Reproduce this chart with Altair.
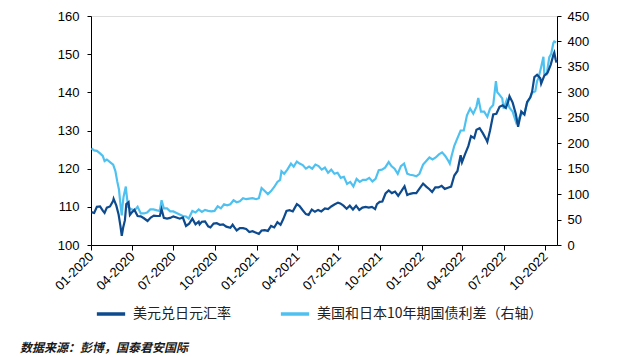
import altair as alt
import pandas as pd

FX_LABEL = "美元兑日元汇率"
SP_LABEL = "美国和日本10年期国债利差（右轴）"

fx_dates = [
    "2020-01-02","2020-01-08","2020-01-14","2020-01-21","2020-01-27","2020-01-31","2020-02-05","2020-02-12",
    "2020-02-19","2020-02-20","2020-02-26","2020-03-02","2020-03-06","2020-03-09","2020-03-12","2020-03-16",
    "2020-03-19","2020-03-24","2020-03-27","2020-03-31","2020-04-06","2020-04-13","2020-04-20","2020-04-27",
    "2020-05-05","2020-05-12","2020-05-19","2020-05-26","2020-06-01","2020-06-05","2020-06-10","2020-06-17",
    "2020-06-24","2020-07-01","2020-07-08","2020-07-15","2020-07-22","2020-07-29","2020-08-05","2020-08-12",
    "2020-08-19","2020-08-26","2020-08-28","2020-09-02","2020-09-09","2020-09-16","2020-09-21","2020-09-28",
    "2020-10-05","2020-10-12","2020-10-19","2020-10-26","2020-11-04","2020-11-09","2020-11-13","2020-11-18",
    "2020-11-25","2020-12-02","2020-12-09","2020-12-16","2020-12-23","2020-12-31","2021-01-06","2021-01-12",
    "2021-01-19","2021-01-26","2021-02-02","2021-02-09","2021-02-16","2021-02-23","2021-03-01","2021-03-08",
    "2021-03-15","2021-03-22","2021-03-31","2021-04-06","2021-04-13","2021-04-20","2021-04-26","2021-05-03",
    "2021-05-10","2021-05-17","2021-05-24","2021-06-01","2021-06-08","2021-06-15","2021-06-22","2021-06-30",
    "2021-07-05","2021-07-12","2021-07-19","2021-07-26","2021-08-02","2021-08-09","2021-08-16","2021-08-23",
    "2021-08-30","2021-09-06","2021-09-13","2021-09-20","2021-09-24","2021-09-30","2021-10-06","2021-10-13",
    "2021-10-20","2021-10-27","2021-11-03","2021-11-10","2021-11-17","2021-11-24","2021-11-30","2021-12-06",
    "2021-12-13","2021-12-20","2021-12-27","2022-01-04","2022-01-11","2022-01-18","2022-01-24","2022-01-31",
    "2022-02-07","2022-02-14","2022-02-21","2022-02-28","2022-03-07","2022-03-14","2022-03-21","2022-03-28",
    "2022-03-31","2022-04-07","2022-04-14","2022-04-20","2022-04-27","2022-05-02","2022-05-09","2022-05-16",
    "2022-05-23","2022-05-26","2022-06-01","2022-06-08","2022-06-15","2022-06-22","2022-06-29","2022-07-06",
    "2022-07-11","2022-07-14","2022-07-21","2022-07-28","2022-08-02","2022-08-09","2022-08-16","2022-08-22",
    "2022-08-29","2022-09-02","2022-09-07","2022-09-13","2022-09-20","2022-09-22","2022-09-29","2022-10-06",
    "2022-10-13","2022-10-19","2022-10-21","2022-10-24","2022-10-26",
]
fx_values = [
    108.6,108.4,110.0,110.1,109.0,108.4,109.8,110.1,
    111.6,112.1,110.3,108.0,105.0,102.4,104.5,106.5,
    110.7,111.2,107.9,108.5,109.2,107.6,107.5,107.0,
    106.3,107.2,107.7,107.6,107.6,109.4,107.1,106.9,
    107.1,107.5,107.2,106.9,107.2,105.0,105.6,106.9,
    105.4,106.1,105.4,106.1,106.2,104.9,104.6,105.6,
    105.7,105.3,105.4,104.8,104.5,105.3,104.6,103.8,
    104.4,104.4,104.2,103.4,103.6,103.2,102.9,103.8,
    103.9,103.7,105.0,104.6,106.0,105.3,106.8,108.9,
    109.1,108.8,110.7,110.2,109.1,108.1,107.9,109.3,
    108.7,109.2,108.8,109.6,109.4,110.1,110.6,111.1,
    110.9,110.3,109.5,110.3,109.3,110.3,109.2,109.8,
    110.0,109.8,110.0,109.4,110.7,111.3,111.4,113.5,
    114.3,113.6,114.0,112.9,114.1,115.4,113.1,113.4,
    113.6,113.6,114.8,116.1,115.3,114.6,113.9,115.1,
    115.1,115.5,114.7,115.0,115.3,118.2,119.4,123.5,
    121.7,123.9,125.9,128.5,128.0,130.2,130.6,129.3,
    127.8,127.0,130.0,134.2,134.4,136.2,136.6,135.9,
    137.5,139.0,137.3,134.3,131.0,135.0,134.2,137.5,
    138.7,140.2,144.0,144.6,143.7,142.3,144.4,145.1,
    147.2,149.8,150.4,148.6,147.8,
]

sp_dates = [
    "2020-01-02","2020-01-08","2020-01-14","2020-01-21","2020-01-27","2020-01-31","2020-02-05","2020-02-12",
    "2020-02-19","2020-02-24","2020-02-28","2020-03-03","2020-03-06","2020-03-09","2020-03-11","2020-03-13",
    "2020-03-18","2020-03-19","2020-03-23","2020-03-27","2020-03-31","2020-04-06","2020-04-13","2020-04-20",
    "2020-04-27","2020-05-04","2020-05-11","2020-05-18","2020-05-26","2020-06-01","2020-06-05","2020-06-10",
    "2020-06-17","2020-06-24","2020-07-01","2020-07-08","2020-07-15","2020-07-22","2020-07-29","2020-08-04",
    "2020-08-12","2020-08-19","2020-08-26","2020-09-02","2020-09-09","2020-09-16","2020-09-23","2020-09-30",
    "2020-10-07","2020-10-14","2020-10-21","2020-10-28","2020-11-04","2020-11-11","2020-11-18","2020-11-25",
    "2020-12-02","2020-12-09","2020-12-16","2020-12-23","2020-12-31","2021-01-06","2021-01-12","2021-01-19",
    "2021-01-26","2021-02-02","2021-02-09","2021-02-16","2021-02-22","2021-02-25","2021-03-03","2021-03-10",
    "2021-03-18","2021-03-24","2021-03-31","2021-04-06","2021-04-13","2021-04-20","2021-04-27","2021-05-04",
    "2021-05-11","2021-05-18","2021-05-25","2021-06-01","2021-06-08","2021-06-15","2021-06-22","2021-06-29",
    "2021-07-06","2021-07-13","2021-07-20","2021-07-27","2021-08-03","2021-08-10","2021-08-17","2021-08-24",
    "2021-08-31","2021-09-07","2021-09-14","2021-09-21","2021-09-28","2021-10-05","2021-10-12","2021-10-20",
    "2021-10-26","2021-11-02","2021-11-09","2021-11-16","2021-11-23","2021-11-30","2021-12-06","2021-12-13",
    "2021-12-20","2021-12-27","2022-01-04","2022-01-11","2022-01-18","2022-01-25","2022-02-01","2022-02-08",
    "2022-02-15","2022-02-22","2022-03-01","2022-03-04","2022-03-08","2022-03-14","2022-03-21","2022-03-28",
    "2022-04-04","2022-04-11","2022-04-18","2022-04-25","2022-05-02","2022-05-06","2022-05-12","2022-05-19",
    "2022-05-26","2022-06-01","2022-06-08","2022-06-14","2022-06-17","2022-06-22","2022-06-28","2022-07-01",
    "2022-07-08","2022-07-14","2022-07-21","2022-07-29","2022-08-02","2022-08-09","2022-08-16","2022-08-22",
    "2022-08-29","2022-09-02","2022-09-09","2022-09-13","2022-09-16","2022-09-22","2022-09-27","2022-09-29",
    "2022-10-04","2022-10-10","2022-10-14","2022-10-19","2022-10-21","2022-10-25",
]
sp_values = [
    190,186,185,180,175,165,168,163,
    158,145,125,108,80,58,80,95,
    115,105,75,72,70,68,75,62,
    62,64,70,70,68,67,88,72,
    72,66,66,63,60,57,56,52,
    67,64,70,65,69,67,66,67,
    76,72,80,78,80,88,84,86,
    92,90,91,92,90,92,112,106,
    100,106,114,124,128,145,140,148,
    160,154,164,160,157,150,154,150,
    158,155,148,152,142,148,140,142,
    132,134,120,124,115,130,124,128,
    128,132,125,130,147,148,152,163,
    155,150,140,155,160,140,138,137,
    135,140,158,165,172,168,172,178,
    182,175,165,160,175,195,210,225,
    225,255,268,258,272,289,262,262,
    252,268,275,322,300,295,288,268,
    285,270,262,240,245,258,258,279,
    290,299,302,322,328,350,370,335,
    335,369,375,397,400,398,
]

assert len(fx_dates) == len(fx_values)
assert len(sp_dates) == len(sp_values)

df_fx = pd.DataFrame({"date": pd.to_datetime(fx_dates), "usdjpy": fx_values})
df_sp = pd.DataFrame({"date": pd.to_datetime(sp_dates), "spread": sp_values})

tick_dates = [alt.DateTime(year=y, month=m, date=1) for y in (2020, 2021, 2022) for m in (1, 4, 7, 10)]

x_scale = alt.Scale(domain=[alt.DateTime(year=2020, month=1, date=1), alt.DateTime(year=2022, month=10, date=27)], nice=False)
x_axis = alt.Axis(
    values=tick_dates, format="%m-%Y", labelAngle=-45, labelAlign="right", labelBaseline="middle",
    labelOverlap=False, labelFlush=False,
    title=None, grid=False, domainColor="black", tickColor="black", tickSize=5,
    labelFont="Liberation Sans", labelFontSize=13, labelColor="black", labelPadding=4,
)

color_scale = alt.Scale(domain=[FX_LABEL, SP_LABEL], range=["#0D4A8E", "#4FC1F0"])
legend = alt.Legend(
    title=None, orient="none", direction="horizontal", legendX=4, legendY=282,
    symbolType="stroke", symbolSize=800, symbolStrokeWidth=3.5,
    labelFont="Noto Sans CJK SC", labelFontSize=14, labelColor="#222222",
    columnPadding=42, labelOffset=6, labelLimit=400,
)

sp_line = alt.Chart(df_sp).mark_line(strokeWidth=2.2).encode(
    x=alt.X("date:T", scale=x_scale, axis=x_axis),
    y=alt.Y("spread:Q", scale=alt.Scale(domain=[0, 450], nice=False),
            axis=alt.Axis(orient="right", values=list(range(0, 451, 50)), title=None, grid=False,
                          domainColor="black", tickColor="black", tickSize=4,
                          labelFont="Liberation Sans", labelFontSize=13, labelColor="black", labelPadding=6)),
    color=alt.Color("s:N", scale=color_scale, legend=legend),
).transform_calculate(s="'" + SP_LABEL + "'")

fx_line = alt.Chart(df_fx).mark_line(strokeWidth=2.2).encode(
    x=alt.X("date:T", scale=x_scale, axis=x_axis),
    y=alt.Y("usdjpy:Q", scale=alt.Scale(domain=[100, 160], nice=False),
            axis=alt.Axis(orient="left", values=list(range(100, 161, 10)), title=None, grid=False,
                          domainColor="black", tickColor="black", tickSize=4,
                          labelFont="Liberation Sans", labelFontSize=13, labelColor="black", labelPadding=8)),
    color=alt.Color("s:N", scale=color_scale, legend=legend),
).transform_calculate(s="'" + FX_LABEL + "'")

source = alt.Chart(pd.DataFrame({"t": ["数据来源：彭博，国泰君安国际"]})).mark_text(
    align="left", baseline="middle", font="Noto Sans CJK SC", fontSize=12, fontWeight="bold",
    fontStyle="italic", color="#1a1a1a",
).encode(text="t:N", x=alt.value(-71), y=alt.value(332))

chart = alt.layer(sp_line, fx_line, source).resolve_scale(y="independent").properties(
    width=466, height=229,
    autosize=alt.AutoSizeParams(type="none"),
    padding={"left": 83, "top": 8, "right": 50, "bottom": 110},
).configure_view(stroke=None).configure(background="white")

chart.save("out.html", embed_options={"renderer": "svg", "actions": False})
